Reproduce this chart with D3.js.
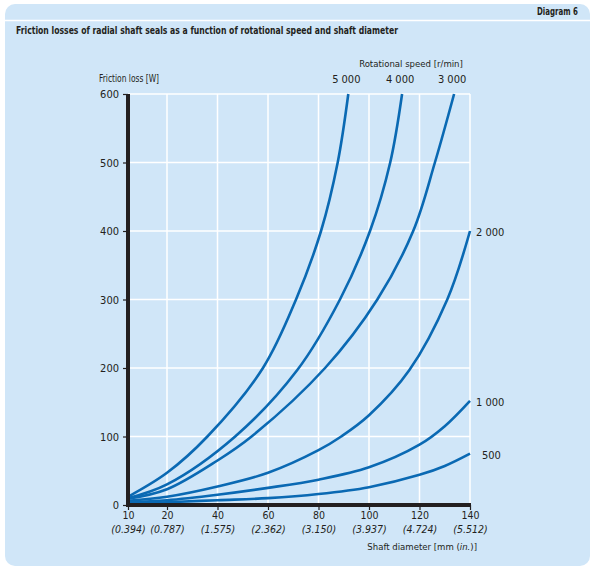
<!DOCTYPE html>
<html>
<head>
<meta charset="utf-8">
<script src="https://cdn.jsdelivr.net/npm/d3@7"></script>
<style>
  body { margin: 0; background: #fff; }
  svg text { font-family: "Liberation Sans Narrow", "DejaVu Sans Condensed", "Liberation Sans", sans-serif; fill: #231f20; }
</style>
</head>
<body>
<svg id="chart" width="595" height="574"></svg>
<script>
// shaft diameter ticks [mm] and inch labels
const diameters = [10, 20, 40, 60, 80, 100, 120, 140];
const inches = ["(0.394)", "(0.787)", "(1.575)", "(2.362)", "(3.150)", "(3.937)", "(4.724)", "(5.512)"];
const lossTicks = [0, 100, 200, 300, 400, 500, 600];

// rotational speed labels [r/min]
const speeds = ["5 000", "4 000", "3 000", "2 000", "1 000", "500"];

// friction loss [W] vs shaft diameter [mm]
const loss5000 = [[10, 12], [20, 47], [36, 100], [58, 200], [71.1, 300], [81, 400], [87.6, 500], [91.8, 600]];
const loss4000 = [[10, 10], [20, 30], [47, 100], [71.6, 197], [88.5, 300], [100.4, 400], [108.4, 500], [113.1, 600]];
const loss3000 = [[10, 9], [20, 23], [40, 65], [53.5, 100], [82.6, 200], [103.3, 300], [117.5, 400], [126.1, 500], [133.7, 600]];
const loss2000 = [[10, 6], [20, 12], [40, 27], [60, 47], [80, 80], [89, 100], [100, 131], [116, 197], [131, 300], [140, 400]];
const loss1000 = [[10, 4], [20, 7], [40, 15], [60, 25], [80, 37], [100, 55], [120, 88], [130, 115], [140, 152]];
const loss500 = [[10, 2], [20, 4], [40, 7], [60, 10], [80, 16], [100, 26], [120, 44], [130, 57], [140, 75]];

const series = [loss5000, loss4000, loss3000, loss2000, loss1000, loss500];

const svg = d3.select("#chart");
const blue = "#0a69b3";

// panel
svg.append("rect")
    .attr("x", 5).attr("y", 4)
    .attr("width", 585).attr("height", 562)
    .attr("rx", 10)
    .attr("fill", "#d0e6f8");
svg.append("line")
    .attr("x1", 5).attr("x2", 590)
    .attr("y1", 20.5).attr("y2", 20.5)
    .attr("stroke", "#fff").attr("stroke-width", 1.5);

svg.append("text")
    .attr("x", 578).attr("y", 15)
    .attr("text-anchor", "end")
    .attr("textLength", 41).attr("lengthAdjust", "spacingAndGlyphs")
    .style("font-size", "10px").style("font-weight", "bold")
    .text("Diagram 6");

svg.append("text")
    .attr("x", 16).attr("y", 34)
    .attr("textLength", 382).attr("lengthAdjust", "spacingAndGlyphs")
    .style("font-size", "10px").style("font-weight", "bold")
    .text("Friction losses of radial shaft seals as a function of rotational speed and shaft diameter");

// scales (first interval 10-20 is compressed in the original)
const x = d3.scaleLinear()
    .domain([10, 20, 140])
    .range([128, 167, 470]);

const y = d3.scaleLinear()
    .domain([0, 600])
    .range([505, 94]);

const g = svg.append("g");

// grid
g.selectAll(".vgrid")
    .data(diameters.slice(1))
    .enter()
    .append("line")
    .attr("x1", d => x(d)).attr("x2", d => x(d))
    .attr("y1", y(600)).attr("y2", y(0))
    .attr("stroke", "#fff").attr("stroke-width", 1.5);

g.selectAll(".hgrid")
    .data(lossTicks.slice(1))
    .enter()
    .append("line")
    .attr("x1", x(10)).attr("x2", x(140))
    .attr("y1", d => y(d)).attr("y2", d => y(d))
    .attr("stroke", "#fff").attr("stroke-width", 1.5);

// y axis
const yAxis = g.append("g")
    .attr("transform", `translate(${x(10)},0)`)
    .call(d3.axisLeft(y).tickValues(lossTicks).tickSize(5).tickPadding(4));
yAxis.select(".domain").remove();
yAxis.selectAll(".tick line").attr("stroke", "#231f20").attr("stroke-width", 1.2);
yAxis.selectAll(".tick text").style("font-size", "11px").attr("fill", "#231f20");

// x axis
const xAxis = g.append("g")
    .attr("transform", `translate(0,${y(0)})`)
    .call(d3.axisBottom(x).tickValues(diameters).tickSize(5).tickPadding(2));
xAxis.select(".domain").remove();
xAxis.selectAll(".tick line").attr("stroke", "#231f20").attr("stroke-width", 1.2);
xAxis.selectAll(".tick text").style("font-size", "10.5px").attr("fill", "#231f20");
xAxis.selectAll(".tick")
    .append("text")
    .attr("y", 28)
    .attr("text-anchor", "middle")
    .style("font-size", "10.5px").style("font-style", "italic")
    .attr("fill", "#231f20")
    .text((d, i) => inches[i]);

// curves
const line = d3.line()
    .x(d => x(d[0]))
    .y(d => y(d[1]))
    .curve(d3.curveCatmullRom.alpha(0.5));

g.selectAll(".curve")
    .data(series)
    .enter()
    .append("path")
    .attr("d", line)
    .attr("fill", "none")
    .attr("stroke", blue)
    .attr("stroke-width", 2.6);

// thick axis lines
g.append("line")
    .attr("x1", x(10)).attr("x2", x(10))
    .attr("y1", y(600)).attr("y2", y(0) + 2)
    .attr("stroke", "#231f20").attr("stroke-width", 4);
g.append("line")
    .attr("x1", x(10) - 2).attr("x2", x(140) + 1)
    .attr("y1", y(0)).attr("y2", y(0))
    .attr("stroke", "#231f20").attr("stroke-width", 4);

// speed labels at curve ends
series.forEach((s, i) => {
    const last = s[s.length - 1];
    const t = g.append("text").style("font-size", "11px").text(speeds[i]);
    if (last[1] >= 600) {
        t.attr("x", x(last[0]) - 2).attr("y", y(600) - 11).attr("text-anchor", "middle");
    } else {
        t.attr("x", x(last[0]) + (speeds[i].length < 4 ? 12 : 6)).attr("y", y(last[1]) + 5);
    }
});

svg.append("text")
    .attr("x", 411).attr("y", 67)
    .attr("text-anchor", "middle")
    .style("font-size", "9.5px")
    .text("Rotational speed [r/min]");

svg.append("text")
    .attr("x", 99).attr("y", 82)
    .attr("textLength", 60).attr("lengthAdjust", "spacingAndGlyphs")
    .style("font-size", "10px")
    .text("Friction loss [W]");

const xt = svg.append("text")
    .attr("x", 477).attr("y", 550)
    .attr("text-anchor", "end")
    .style("font-size", "9.5px");
xt.append("tspan").text("Shaft diameter [mm (");
xt.append("tspan").style("font-style", "italic").text("in.");
xt.append("tspan").text(")]");
</script>
</body>
</html>
